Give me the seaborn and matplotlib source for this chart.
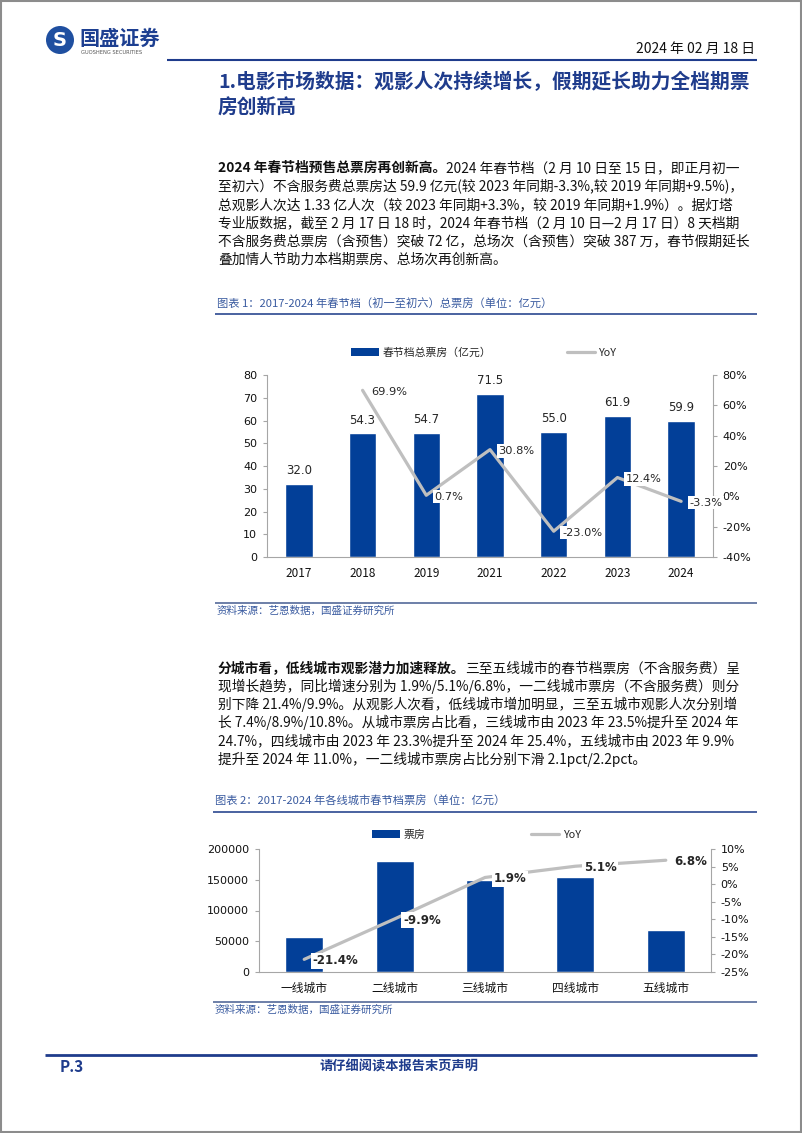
import numpy as np
import pandas as pd
import matplotlib
matplotlib.use("Agg")
import matplotlib.pyplot as plt
import seaborn as sns
from matplotlib.patches import Rectangle, Ellipse, Patch
from matplotlib.lines import Line2D
from matplotlib.ticker import FuncFormatter

# ---------------- data ----------------
years = ["2017", "2018", "2019", "2021", "2022", "2023", "2024"]
box_office = [32.0, 54.3, 54.7, 71.5, 55.0, 61.9, 59.9]
yoy_total = [np.nan, 69.9, 0.7, 30.8, -23.0, 12.4, -3.3]

cities = ["一线城市", "二线城市", "三线城市", "四线城市", "五线城市"]
city_box = [57000, 181000, 150000, 154000, 67500]
city_yoy = [-21.4, -9.9, 1.9, 5.1, 6.8]

legend1 = ["春节档总票房（亿元）", "YoY"]
legend2 = ["票房", "YoY"]

W, H = 802, 1133
BAR = "#023F98"
LINE = "#BFBFBF"
NAVY = "#1F3C8C"
CAP = "#3A5BA0"
AXC = "#A6A6A6"
CJK = ["Noto Sans CJK SC", "DejaVu Sans"]
NUM = "DejaVu Sans"

sns.set_style("white")
plt.rcParams["font.family"] = CJK
plt.rcParams["axes.unicode_minus"] = False

fig = plt.figure(figsize=(W / 100, H / 100), dpi=100)
renderer = fig.canvas.get_renderer()


def fx(x):
    return x / W


def fy(y):
    return 1 - y / H


def rect(x0, y0, x1, y1):
    return [x0 / W, 1 - y1 / H, (x1 - x0) / W, (y1 - y0) / H]


def hline(x0, x1, y, color, lw):
    fig.add_artist(Line2D([fx(x0), fx(x1)], [fy(y), fy(y)], color=color,
                          lw=lw, transform=fig.transFigure, solid_capstyle="butt"))


def seg_line(x, yc, segs, size, color="#111111", style="normal"):
    yb = yc + 0.38 * size * 100 / 72
    for s, weight in segs:
        t = fig.text(fx(x), fy(yb), s, fontsize=size, fontweight=weight,
                     color=color, va="baseline", ha="left", fontstyle=style)
        x += t.get_window_extent(renderer).width


# ---------------- page frame ----------------
fig.add_artist(Rectangle((0.001, 0.001), 0.998, 0.998, transform=fig.transFigure,
                         fill=False, ec="#8C8C8C", lw=1.5))

# logo
fig.add_artist(Ellipse((fx(60), fy(40)), 28 / W, 28 / H, transform=fig.transFigure,
                       fc="#1F4FA0", ec="none"))
fig.text(fx(60), fy(40), "S", fontsize=14, fontweight="bold", color="white",
         ha="center", va="center", family=NUM)
fig.text(fx(79), fy(38), "国盛证券", fontsize=14.5, fontweight="bold", color="#1D3F91",
         ha="left", va="center")
fig.text(fx(81), fy(53), "GUOSHENG SECURITIES", fontsize=3.7, color="#555555",
         ha="left", va="center", family=NUM)

fig.text(fx(755), fy(49), "2024 年 02 月 18 日", fontsize=10, color="#111111",
         ha="right", va="center")
hline(167, 757, 59.5, NAVY, 1.5)

# title
seg_line(218, 81, [("1.电影市场数据：观影人次持续增长，假期延长助力全档期票", "bold")], 14.2, NAVY)
seg_line(218, 106, [("房创新高", "bold")], 14.2, NAVY)

# paragraph 1
FS = 9.9
p1 = [
    [("2024 年春节档预售总票房再创新高。", "bold"), ("2024 年春节档（2 月 10 日至 15 日，即正月初一", "normal")],
    [("至初六）不含服务费总票房达 59.9 亿元(较 2023 年同期-3.3%,较 2019 年同期+9.5%)，", "normal")],
    [("总观影人次达 1.33 亿人次（较 2023 年同期+3.3%，较 2019 年同期+1.9%）。据灯塔", "normal")],
    [("专业版数据，截至 2 月 17 日 18 时，2024 年春节档（2 月 10 日—2 月 17 日）8 天档期", "normal")],
    [("不含服务费总票房（含预售）突破 72 亿，总场次（含预售）突破 387 万，春节假期延长", "normal")],
    [("叠加情人节助力本档期票房、总场次再创新高。", "normal")],
]
for i, segs in enumerate(p1):
    seg_line(218, 167 + 18.3 * i, segs, FS)

# caption 1
fig.text(fx(217), fy(304), "图表 1：2017-2024 年春节档（初一至初六）总票房（单位：亿元）",
         fontsize=8.1, color=CAP, style="italic", ha="left", va="center")
hline(215, 757, 314, "#4A62A0", 1.4)

# ---------------- chart 1 ----------------
df1 = pd.DataFrame({"year": years, "box": box_office, "yoy": yoy_total,
                    "pos": np.arange(len(years))})
ax1 = fig.add_axes(rect(267, 375, 713, 557))
sns.barplot(data=df1, x="year", y="box", color=BAR, width=0.43, saturation=1, ax=ax1)
ax1.bar_label(ax1.containers[0], fmt="%.1f", padding=5, fontsize=8.5, fontfamily=NUM)
ax1b = ax1.twinx()
sns.lineplot(data=df1, x="pos", y="yoy", ax=ax1b, color=LINE, lw=2.3)
for i, v in enumerate(yoy_total):
    if np.isnan(v):
        continue
    ax1b.annotate(f"{v:.1f}%", (i, v), xytext=(6, -1), textcoords="offset points",
                  ha="left", va="center", fontsize=8.2, fontfamily=NUM,
                  bbox=dict(fc="white", ec="none", pad=1.2), annotation_clip=False)

# ---------------- chart 2 ----------------
df2 = pd.DataFrame({"city": cities, "box": city_box, "yoy": city_yoy,
                    "pos": np.arange(len(cities))})
ax2 = fig.add_axes(rect(259, 849, 711, 972))
sns.barplot(data=df2, x="city", y="box", color=BAR, width=0.42, saturation=1, ax=ax2)
ax2b = ax2.twinx()
sns.lineplot(data=df2, x="pos", y="yoy", ax=ax2b, color=LINE, lw=2.3)
for i, v in enumerate(city_yoy):
    ax2b.annotate(f"{v:.1f}%", (i, v), xytext=(6, -1), textcoords="offset points",
                  ha="left", va="center", fontsize=8.5, fontweight="bold", fontfamily=NUM,
                  bbox=dict(fc="white", ec="none", pad=1.2), annotation_clip=False)


def style_axes(ax, axr, n, yl, yt, yrl, yrt, lfmt, rfmt):
    ax.set_xlim(-0.5, n - 0.5)
    ax.set_ylim(*yl)
    ax.set_yticks(yt)
    ax.yaxis.set_major_formatter(FuncFormatter(lfmt))
    axr.set_ylim(*yrl)
    axr.set_yticks(yrt)
    axr.yaxis.set_major_formatter(FuncFormatter(rfmt))
    ax.set_xlabel("")
    ax.set_ylabel("")
    axr.set_ylabel("")
    ax.set_xticks(np.arange(-0.5, n, 1.0), minor=True)
    ax.tick_params(axis="x", which="major", length=0, pad=7, labelsize=8.5, colors="#111111")
    ax.tick_params(axis="x", which="minor", length=4, color=AXC, width=0.8, direction="out")
    ax.tick_params(axis="y", length=3, color=AXC, width=0.8, pad=4, labelsize=8,
                   direction="out", left=True, labelcolor="#111111")
    axr.tick_params(axis="y", length=3, color=AXC, width=0.8, pad=4, labelsize=8,
                    direction="out", right=True, labelcolor="#111111")
    for s in ["top", "right"]:
        ax.spines[s].set_visible(False)
    for s in ["top", "left", "bottom"]:
        axr.spines[s].set_visible(False)
    for s in ["left", "bottom"]:
        ax.spines[s].set_color(AXC)
        ax.spines[s].set_linewidth(0.8)
    axr.spines["right"].set_color(AXC)
    axr.spines["right"].set_linewidth(0.8)
    for lbl in ax.get_yticklabels() + axr.get_yticklabels():
        lbl.set_fontfamily(NUM)
    ax.grid(False)
    axr.grid(False)


style_axes(ax1, ax1b, len(years), (0, 80), np.arange(0, 81, 10), (-40, 80),
           np.arange(-40, 81, 20), lambda v, p: f"{v:.0f}", lambda v, p: f"{v:.0f}%")
style_axes(ax2, ax2b, len(cities), (0, 200000), np.arange(0, 200001, 50000), (-25, 10),
           np.arange(-25, 11, 5), lambda v, p: f"{v:.0f}", lambda v, p: f"{v:.0f}%")

# legends
h1 = [Patch(fc=BAR, ec="none"), Line2D([], [], color=LINE, lw=2.3)]
ax1b.legend(h1, legend1, loc="center left", bbox_to_anchor=(fx(351), fy(353)),
            bbox_transform=fig.transFigure, ncol=2, frameon=False, fontsize=7.8,
            handlelength=2.6, handleheight=0.75, handletextpad=0.3, columnspacing=7.0,
            borderaxespad=0, borderpad=0)
h2 = [Patch(fc=BAR, ec="none"), Line2D([], [], color=LINE, lw=2.3)]
ax2b.legend(h2, legend2, loc="center left", bbox_to_anchor=(fx(372), fy(835)),
            bbox_transform=fig.transFigure, ncol=2, frameon=False, fontsize=7.8,
            handlelength=2.6, handleheight=0.75, handletextpad=0.3, columnspacing=9.8,
            borderaxespad=0, borderpad=0)

# source 1
hline(215, 757, 603, "#6C7FA8", 1.4)
fig.text(fx(217), fy(611), "资料来源：艺恩数据，国盛证券研究所", fontsize=7.6, color=CAP,
         style="italic", ha="left", va="center")

# paragraph 2
p2 = [
    [("分城市看，低线城市观影潜力加速释放。", "bold"), ("三至五线城市的春节档票房（不含服务费）呈", "normal")],
    [("现增长趋势，同比增速分别为 1.9%/5.1%/6.8%，一二线城市票房（不含服务费）则分", "normal")],
    [("别下降 21.4%/9.9%。从观影人次看，低线城市增加明显，三至五城市观影人次分别增", "normal")],
    [("长 7.4%/8.9%/10.8%。从城市票房占比看，三线城市由 2023 年 23.5%提升至 2024 年", "normal")],
    [("24.7%，四线城市由 2023 年 23.3%提升至 2024 年 25.4%，五线城市由 2023 年 9.9%", "normal")],
    [("提升至 2024 年 11.0%，一二线城市票房占比分别下滑 2.1pct/2.2pct。", "normal")],
]
for i, segs in enumerate(p2):
    seg_line(218, 667 + 18.3 * i, segs, FS)

# caption 2
fig.text(fx(215), fy(801), "图表 2：2017-2024 年各线城市春节档票房（单位：亿元）",
         fontsize=8.1, color=CAP, style="italic", ha="left", va="center")
hline(213, 757, 812, "#4A62A0", 1.4)

# source 2
hline(213, 757, 1002, "#6C7FA8", 1.4)
fig.text(fx(215), fy(1010), "资料来源：艺恩数据，国盛证券研究所", fontsize=7.6, color=CAP,
         style="italic", ha="left", va="center")

# footer
hline(45, 757, 1055, NAVY, 2.0)
fig.text(fx(60), fy(1067), "P.3", fontsize=11, fontweight="bold", style="italic",
         color=NAVY, ha="left", va="center")
fig.text(fx(399), fy(1067), "请仔细阅读本报告末页声明", fontsize=9.5, fontweight="bold",
         style="italic", color=NAVY, ha="center", va="center")

fig.savefig("out.png", dpi=100, facecolor="white")
